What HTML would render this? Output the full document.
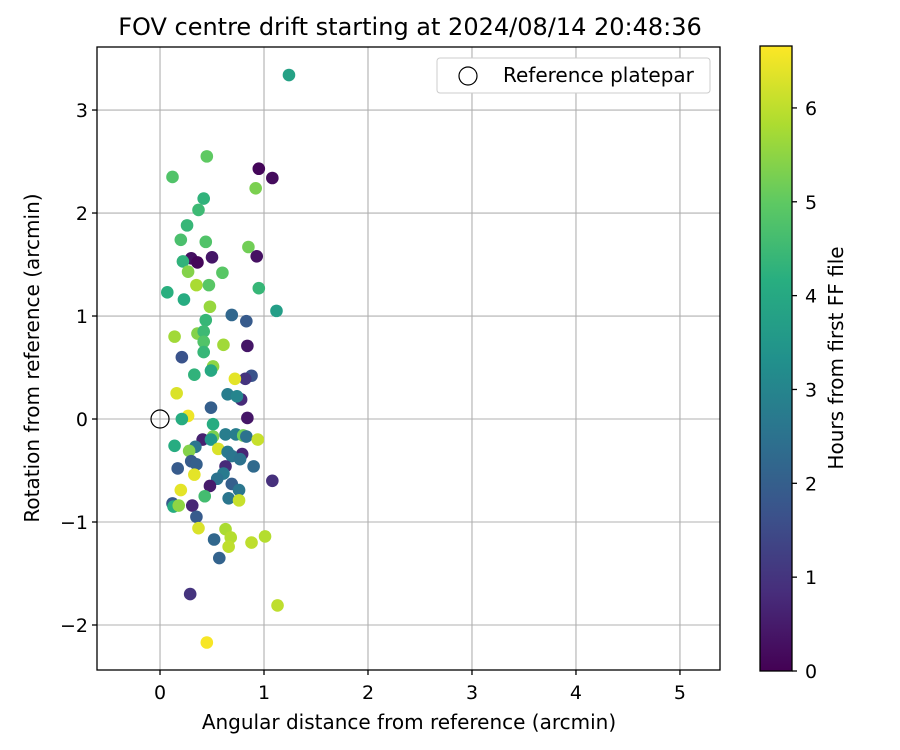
<!DOCTYPE html>
<html><head><meta charset="utf-8"><style>
html,body{margin:0;padding:0;background:#fff;}
svg{display:block;font-family:"DejaVu Sans","Liberation Sans",sans-serif;}
</style></head><body>
<svg id="chart" width="900" height="750" viewBox="0 0 900 750">
<defs>
<linearGradient id="vir" x1="0" y1="1" x2="0" y2="0">
<stop offset="0" stop-color="#440154"/><stop offset="0.125" stop-color="#472d7b"/>
<stop offset="0.25" stop-color="#3b528b"/><stop offset="0.375" stop-color="#2c728e"/>
<stop offset="0.5" stop-color="#21918c"/><stop offset="0.625" stop-color="#28ae80"/>
<stop offset="0.75" stop-color="#5ec962"/><stop offset="0.875" stop-color="#addc30"/>
<stop offset="1" stop-color="#fde725"/>
</linearGradient>
</defs>
<text x="410" y="35" text-anchor="middle" font-size="24">FOV centre drift starting at 2024/08/14 20:48:36</text>
<g id="grid"></g>
<g id="points"></g>
<rect x="97" y="47" width="623" height="623" fill="none" stroke="#000" stroke-width="1.3"/>
<g id="xticks"></g>
<g id="yticks"></g>
<text x="409" y="729" text-anchor="middle" font-size="20">Angular distance from reference (arcmin)</text>
<text transform="translate(39,358) rotate(-90)" text-anchor="middle" font-size="20">Rotation from reference (arcmin)</text>
<g>
<rect x="437" y="58" width="273" height="35" rx="3" fill="#fff" stroke="#ccc"/>
<circle cx="468" cy="76" r="9" fill="none" stroke="#000" stroke-width="1.2"/>
<text x="503" y="82" font-size="20">Reference platepar</text>
</g>
<rect x="760" y="46" width="32" height="625" fill="url(#vir)" stroke="#000" stroke-width="1.3"/>
<g id="cticks"></g>
<text transform="translate(843,358) rotate(-90)" text-anchor="middle" font-size="20">Hours from first FF file</text>
</svg>
<script>
const xs=[1.24,0.45,0.95,1.08,0.12,0.92,0.42,0.37,0.26,0.2,0.44,0.85,0.3,0.36,0.5,0.93,0.22,0.6,0.27,0.35,0.47,0.95,0.07,0.23,0.48,1.12,0.44,0.69,0.83,0.36,0.42,0.14,0.42,0.61,0.84,0.42,0.21,0.51,0.49,0.33,0.88,0.82,0.72,0.16,0.65,0.78,0.74,0.49,0.84,0.27,0.21,0.51,0.51,0.63,0.73,0.80,0.83,0.94,0.41,0.49,0.34,0.14,0.56,0.28,0.65,0.79,0.69,0.77,0.3,0.35,0.17,0.63,0.9,0.61,0.55,0.33,0.69,0.48,0.76,0.2,1.08,0.66,0.43,0.76,0.12,0.13,0.18,0.31,0.35,0.37,0.63,1.01,0.52,0.68,0.88,0.66,0.57,0.29,1.13,0.45];
const ys=[3.34,2.55,2.43,2.34,2.35,2.24,2.14,2.03,1.88,1.74,1.72,1.67,1.56,1.52,1.57,1.58,1.53,1.42,1.43,1.3,1.3,1.27,1.23,1.16,1.09,1.05,0.96,1.01,0.95,0.83,0.85,0.8,0.75,0.72,0.71,0.65,0.6,0.51,0.47,0.43,0.42,0.39,0.39,0.25,0.24,0.19,0.22,0.11,0.01,0.03,0,-0.05,-0.17,-0.15,-0.15,-0.16,-0.17,-0.2,-0.2,-0.2,-0.27,-0.26,-0.29,-0.31,-0.32,-0.34,-0.36,-0.39,-0.41,-0.44,-0.48,-0.46,-0.46,-0.53,-0.58,-0.54,-0.63,-0.65,-0.69,-0.69,-0.6,-0.77,-0.75,-0.79,-0.82,-0.85,-0.84,-0.84,-0.95,-1.06,-1.07,-1.14,-1.17,-1.15,-1.2,-1.24,-1.35,-1.7,-1.81,-2.17];
const hours=[3.8,5,0.1,0.2,4.8,5.3,4.3,4.5,4.4,4.7,4.8,5.2,0.3,0.1,0.4,0.3,4.3,4.9,5.4,5.8,4.9,4.4,4.2,4.1,5.6,3.7,4.4,2.2,1.9,5.4,4.5,5.7,4.8,5.7,0.4,4.4,1.7,5.5,4.0,4.3,1.7,1.0,6.4,6.3,2.8,0.8,3.0,2.0,0.4,6.5,4.1,4.1,5.3,2.8,2.8,5.2,2.5,6.1,0.6,3.5,2.6,4.1,6.3,5.4,2.7,0.7,2.6,2.5,1.9,2.0,1.9,0.8,2.3,2.7,2.5,6.4,2.0,0.5,2.6,6.4,0.9,2.6,4.6,6.1,1.9,4.1,5.5,0.7,1.9,6.3,5.8,5.9,2.2,5.9,6.0,6.0,2.1,1.0,6.0,6.6];
const xTicks=[0,1,2,3,4,5];
const yTicks=[-2,-1,0,1,2,3];
const cTicks=[0,1,2,3,4,5,6];
const refPoint=[0,0];
const X0=97,X1=720,Y0=47,Y1=670,xmin=-0.606,xmax=5.385,ymin=-2.437,ymax=3.612,cmax=6.66;
const sx=v=>X0+(v-xmin)/(xmax-xmin)*(X1-X0);
const sy=v=>Y1-(v-ymin)/(ymax-ymin)*(Y1-Y0);
const sc=v=>671-v/cmax*625;
const NS='http://www.w3.org/2000/svg';
const stops=[[68,1,84],[71,45,123],[59,82,139],[44,114,142],[33,145,140],[40,174,128],[94,201,98],[173,220,48],[253,231,37]];
function vir(h){let t=Math.max(0,Math.min(1,h/cmax))*8;let i=Math.min(7,Math.floor(t)),f=t-i;const a=stops[i],b=stops[i+1];
return 'rgb('+a.map((c,k)=>Math.round(c+(b[k]-c)*f)).join(',')+')';}
function mk(tag,attrs,parent){const e=document.createElementNS(NS,tag);for(const k in attrs)e.setAttribute(k,attrs[k]);parent.appendChild(e);return e;}
const grid=document.getElementById('grid'),xt=document.getElementById('xticks'),yt=document.getElementById('yticks'),ct=document.getElementById('cticks'),pts=document.getElementById('points');
xTicks.forEach(v=>{const x=sx(v);
const g=mk('line',{x1:x,x2:x,y1:Y0,y2:Y1,stroke:'#b0b0b0','stroke-width':1.1},grid);

const t=mk('line',{x1:x,x2:x,y1:Y1,y2:Y1+5,stroke:'#000','stroke-width':1.3},xt);

const l=mk('text',{x:x,y:Y1+29,'text-anchor':'middle','font-size':19},xt);l.textContent=String(v);
});
yTicks.forEach(v=>{const y=sy(v);
const g=mk('line',{x1:X0,x2:X1,y1:y,y2:y,stroke:'#b0b0b0','stroke-width':1.1},grid);

const t=mk('line',{x1:X0-5,x2:X0,y1:y,y2:y,stroke:'#000','stroke-width':1.3},yt);

const l=mk('text',{x:X0-9,y:y+7,'text-anchor':'end','font-size':19},yt);l.textContent=(v<0?'\u2212'+(-v):String(v));
});
cTicks.forEach(v=>{const y=sc(v);
const t=mk('line',{x1:792,x2:797,y1:y,y2:y,stroke:'#000','stroke-width':1.3},ct);

const l=mk('text',{x:805,y:y+7,'font-size':19},ct);l.textContent=String(v);
});
xs.forEach((v,i)=>{const c=mk('circle',{cx:sx(v),cy:sy(ys[i]),r:6.3,fill:vir(hours[i])},pts);
});
const rp=mk('circle',{cx:sx(refPoint[0]),cy:sy(refPoint[1]),r:9,fill:'none',stroke:'#000','stroke-width':1.2},pts);


</script>
</body></html>
